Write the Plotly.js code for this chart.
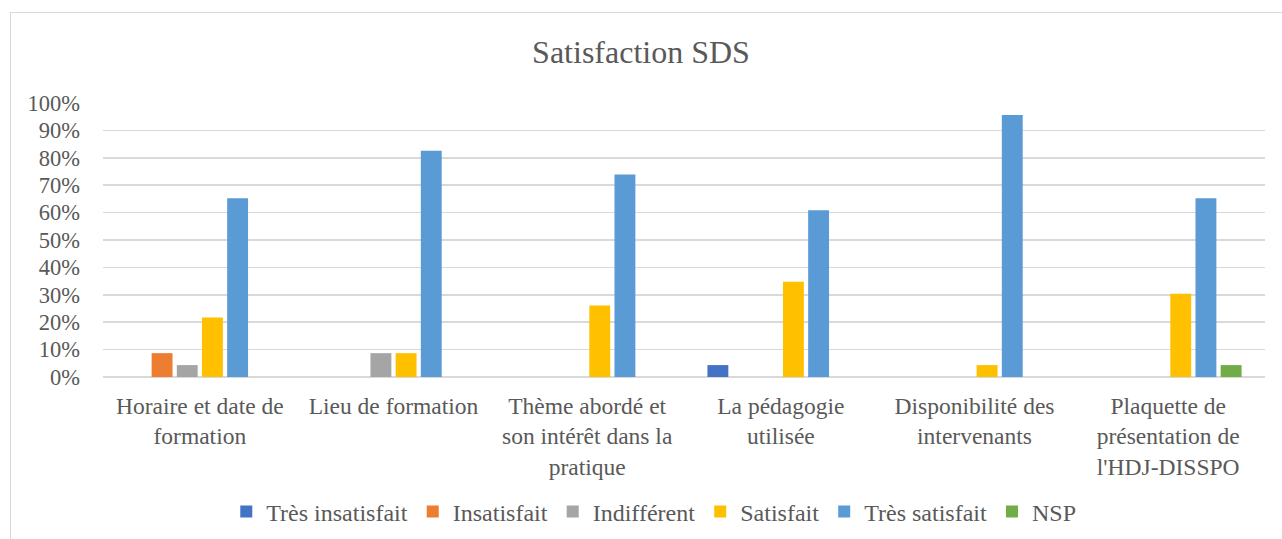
<!DOCTYPE html>
<html><head><meta charset="utf-8">
<script src="https://cdn.plot.ly/plotly-3.0.1.min.js"></script>
<style>
body{margin:0;background:#fff;}
#frame{position:absolute;left:10px;top:12px;width:1290px;height:560px;border:1px solid #d9d9d9;box-sizing:border-box;pointer-events:none;z-index:5;}
#chart{position:absolute;left:0;top:0;width:1282px;height:539px;}
</style></head>
<body>
<div id="frame"></div>
<div id="chart"></div>
<script>
var categories = ["Horaire et date de<br>formation", "Lieu de formation", "Thème abordé et<br>son intérêt dans la<br>pratique", "La pédagogie<br>utilisée", "Disponibilité des<br>intervenants", "Plaquette de<br>présentation de<br>l'HDJ-DISSPO"];
var seriesNames = ["Très insatisfait", "Insatisfait", "Indifférent", "Satisfait", "Très satisfait", "NSP"];
var seriesColors = ["#4472c4", "#ed7d31", "#a5a5a5", "#ffc000", "#5b9bd5", "#70ad47"];
var tresInsatisfait = [0, 0, 0, 0.0435, 0, 0];
var insatisfait = [0.087, 0, 0, 0, 0, 0];
var indifferent = [0.0435, 0.087, 0, 0, 0, 0];
var satisfait = [0.217, 0.087, 0.261, 0.348, 0.0435, 0.304];
var tresSatisfait = [0.652, 0.826, 0.739, 0.609, 0.9565, 0.652];
var nsp = [0, 0, 0, 0, 0, 0.0435];
var tickVals = [0, 0.1, 0.2, 0.3, 0.4, 0.5, 0.6, 0.7, 0.8, 0.9, 1.0];
var tickText = ["0%", "10%", "20%", "30%", "40%", "50%", "60%", "70%", "80%", "90%", "100%"];

var values = [tresInsatisfait, insatisfait, indifferent, satisfait, tresSatisfait, nsp];
var data = values.map(function(v, i){
  return {type:'bar', name: seriesNames[i], x: categories, y: v,
    marker:{color: seriesColors[i]}, hoverinfo:'none'};
});
var fam = '"Liberation Serif", "Times New Roman", serif';
var col = '#595959';
var layout = {
  width:1282, height:539,
  margin:{l:103, r:17, t:103, b:162, autoexpand:false},
  paper_bgcolor:'rgba(0,0,0,0)', plot_bgcolor:'rgba(0,0,0,0)',
  font:{family:fam, color:col, size:23},
  title:{text:'Satisfaction SDS', font:{family:fam, color:col, size:32}, x:0.5, xanchor:'center', y:1-52/539, yanchor:'middle', yref:'container'},
  barmode:'group', bargap:0.22, bargroupgap:0.17,
  xaxis:{type:'category', tickfont:{family:fam, size:23.5, color:col}, showgrid:false, showline:false, ticks:'', ticklabelstandoff:12, automargin:false},
  yaxis:{range:[0,1.0], tickvals:tickVals, ticktext:tickText, tickfont:{family:fam, size:22.5, color:col}, showgrid:true, gridcolor:'#d9d9d9', gridwidth:1.5, zeroline:true, zerolinecolor:'#d9d9d9', zerolinewidth:1.5, showline:false, ticks:'', ticklabelstandoff:22, automargin:false},
  showlegend:true,
  legend:{orientation:'h', x:0.474, xanchor:'center', yref:'container', y:1-512/539, yanchor:'middle', font:{family:fam, size:24, color:col}, itemwidth:30, traceorder:'normal'}
};
Plotly.newPlot('chart', data, layout, {staticPlot:true});
</script>
</body></html>
